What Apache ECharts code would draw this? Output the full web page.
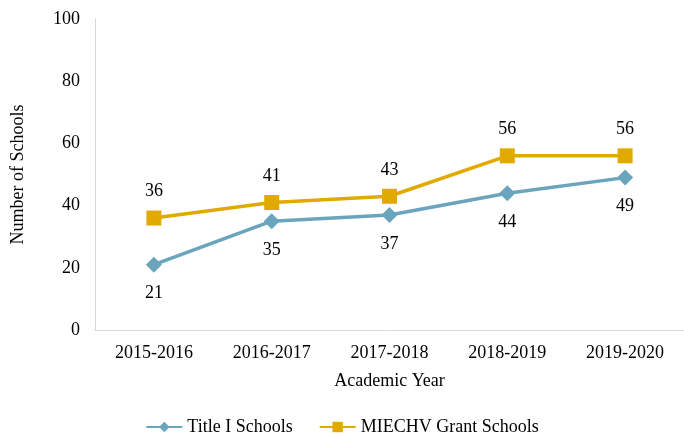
<!DOCTYPE html>
<html><head><meta charset="utf-8">
<script src="https://cdn.jsdelivr.net/npm/echarts@6/dist/echarts.min.js"></script>
<style>html,body{margin:0;padding:0;background:#fff}#c{width:684px;height:435px}</style>
</head><body><div id="c"></div>
<script>
const categories = ["2015-2016","2016-2017","2017-2018","2018-2019","2019-2020"];
const titleI = [21,35,37,44,49];
const miechv = [36,41,43,56,56];
const font = "'Liberation Serif','Times New Roman',serif";
const chart = echarts.init(document.getElementById('c'));
chart.setOption({
  animation:false,
  textStyle:{fontFamily:font,color:'#000'},
  grid:{left:95,top:19,height:311,width:594},
  legend:{bottom:-6,left:'center',itemWidth:36,itemHeight:13,itemGap:26,
    textStyle:{fontFamily:font,fontSize:18,color:'#000'},
    data:['Title I Schools','MIECHV Grant Schools']},
  xAxis:{type:'category',data:categories,
    name:'Academic Year',nameLocation:'middle',nameGap:42,
    nameTextStyle:{fontFamily:font,fontSize:18,color:'#000'},
    axisLine:{lineStyle:{color:'#d9d9d9',width:1}},axisTick:{show:false},
    axisLabel:{fontFamily:font,fontSize:18,color:'#000',margin:14}},
  yAxis:{type:'value',min:0,max:100,interval:20,
    name:'Number of Schools',nameLocation:'middle',nameGap:68,nameRotate:90,
    nameTextStyle:{fontFamily:font,fontSize:18,color:'#000'},
    axisLine:{show:true,lineStyle:{color:'#d9d9d9',width:1}},axisTick:{show:false},
    splitLine:{show:false},
    axisLabel:{fontFamily:font,fontSize:18,color:'#000',margin:15}},
  series:[
    {name:'Title I Schools',type:'line',data:titleI,symbol:'diamond',symbolSize:16,
     lineStyle:{color:'#6aa5bd',width:3.5},itemStyle:{color:'#6aa5bd'},
     label:{show:true,position:'bottom',distance:12,fontFamily:font,fontSize:18,color:'#000'}},
    {name:'MIECHV Grant Schools',type:'line',data:miechv,symbol:'rect',symbolSize:15,
     lineStyle:{color:'#e0aa00',width:3.5},itemStyle:{color:'#e0aa00'},
     label:{show:true,position:'top',distance:10,fontFamily:font,fontSize:18,color:'#000'}}
  ]
});
</script></body></html>
